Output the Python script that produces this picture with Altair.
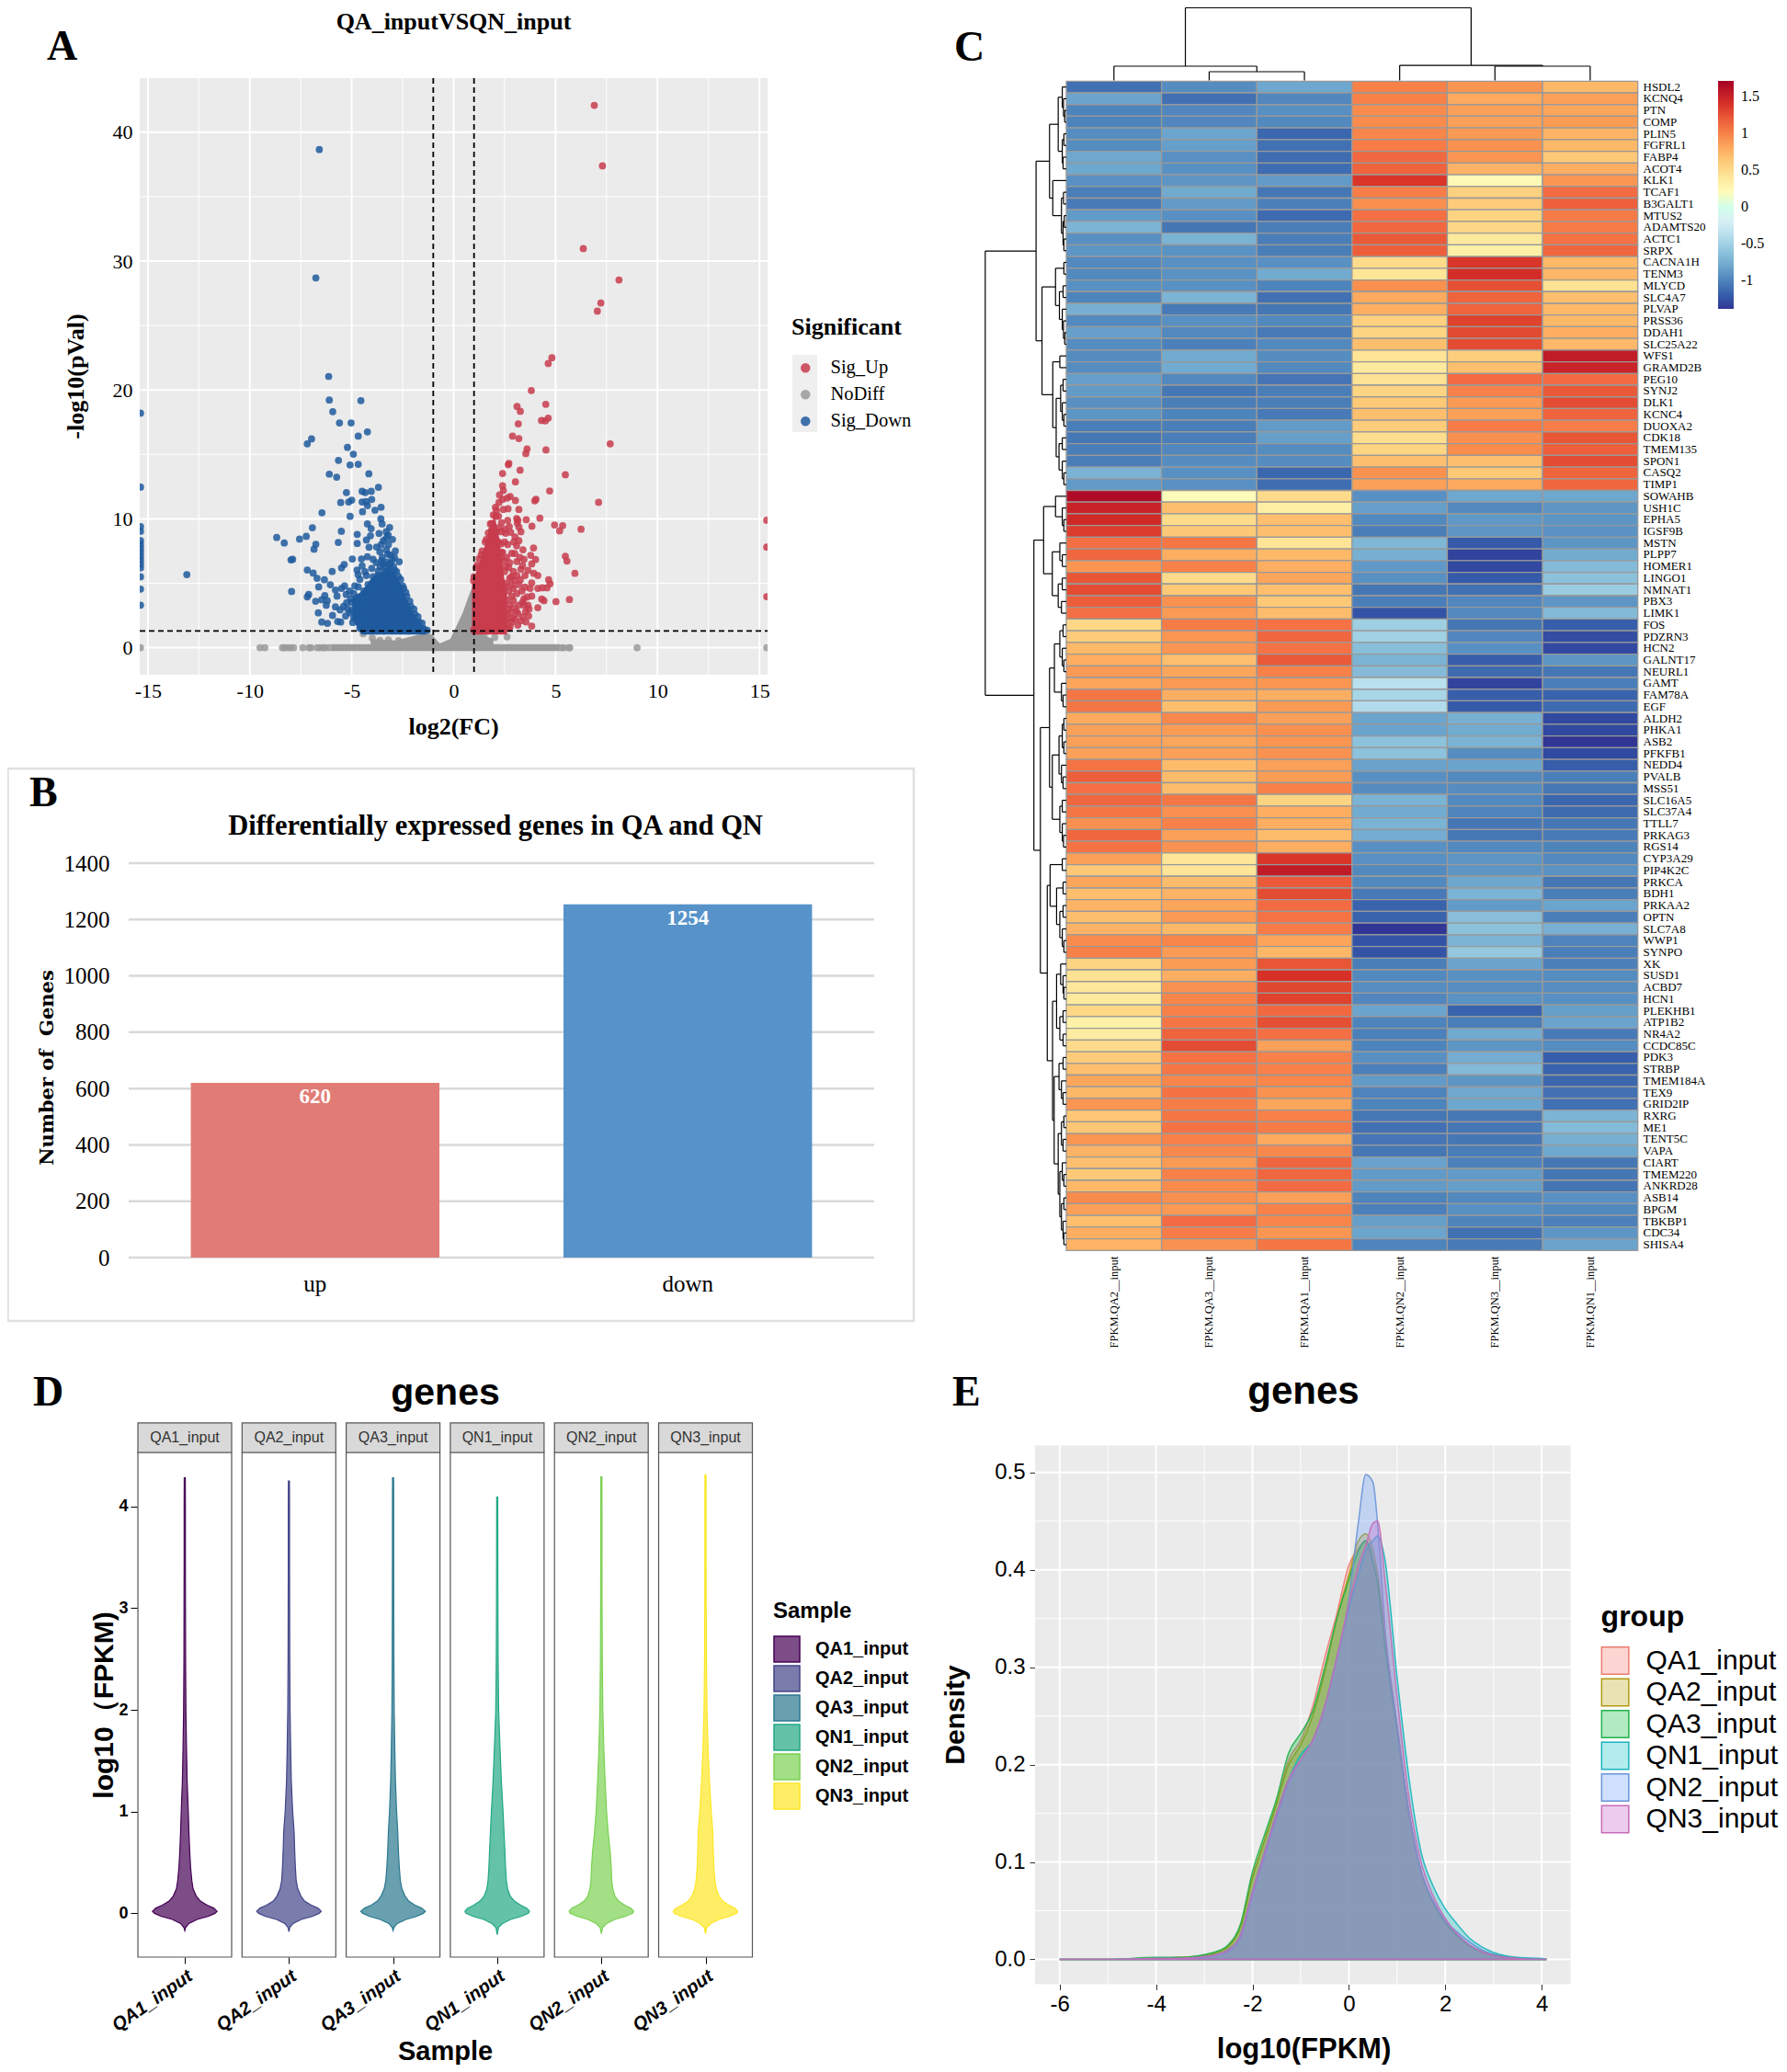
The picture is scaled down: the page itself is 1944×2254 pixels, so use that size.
import altair as alt
import pandas as pd

W, H = 1928, 2238
SERIF = "Liberation Serif"
SANS = "Liberation Sans"
one = pd.DataFrame({"a": [0]})


def px(v):
    return v - 8


def note(text, x, y, size, font=SERIF, weight="normal", angle=0, align="center",
         baseline="alphabetic", color="black"):
    return alt.Chart(one).mark_text(text=text, fontSize=size, font=font, fontWeight=weight, angle=angle,
                                    align=align, baseline=baseline, color=color).encode(
        x=alt.value(px(x)), y=alt.value(px(y)))


def box(x0, x1, y0, y1, fill="transparent", stroke="transparent", sw=0):
    return alt.Chart(one).mark_rect(fill=fill, stroke=stroke, strokeWidth=sw).encode(
        x=alt.value(px(x0)), x2=alt.value(px(x1)), y=alt.value(px(y0)), y2=alt.value(px(y1)))


def vlines(vals, sc, y0, y1, color, width, dash=None):
    kw = {"strokeDash": dash} if dash else {}
    return alt.Chart(pd.DataFrame({"v": vals})).mark_rule(color=color, strokeWidth=width, **kw).encode(
        x=alt.X("v:Q", scale=sc, axis=None), y=alt.value(px(y0)), y2=alt.value(px(y1)))


def hlines(vals, sc, x0, x1, color, width, dash=None):
    kw = {"strokeDash": dash} if dash else {}
    return alt.Chart(pd.DataFrame({"v": vals})).mark_rule(color=color, strokeWidth=width, **kw).encode(
        y=alt.Y("v:Q", scale=sc, axis=None), x=alt.value(px(x0)), x2=alt.value(px(x1)))


# ---------------- A: volcano ----------------
up_pts = [(6.9,42.09),(7.3,37.39),(6.36,30.97),(8.11,28.54),(7.22,26.75),(7.05,26.12),(4.82,22.5),(4.64,22.05),
 (3.81,19.96),(3.11,18.72),(4.52,18.89),(3.27,18.34),(4.64,17.82),(4.31,17.63),(4.5,17.6),(3.17,17.37),(2.89,16.42),
 (3.2,16.23),(3.6,15.42),(3.54,15.06),(4.53,15.35),(7.68,15.82),(2.71,14.3),(2.68,14.2),(3.26,13.78),(2.4,13.52),
 (5.48,13.42),(3.03,12.87),(2.4,12.57),(4.71,12.16),(2.44,12.2),(2.25,11.85),(2.77,11.73),(2.4,11.5),(2.62,11.61),
 (3.03,11.42),(2.22,11.26),(7.11,11.28),(4.04,11.52),(3.98,11.4),(3.2,10.73),(2.67,10.78),(2.1,10.66),(2.44,10.73),
 (2.07,10.19),(2.65,9.88),(3.09,10.02),(3.56,9.93),(4.23,10.05),(3.12,9.67),(3.2,9.36),(1.87,9.64),(3.84,9.43),
 (4.95,9.52),(5.35,9.47),(5.2,9.07),(6.25,9.19),(2.73,9.4),(2.55,8.88),(2.8,8.95),(3.01,8.6),(3.09,7.9),(2.32,8.05),
 (3.92,7.74),(2.85,7.33),(3.78,7.17),(2.32,6.98),(5.48,7.1),(5.56,6.72),(3.45,6.86),(4.02,6.84),(3.1,6.69),(2.47,6.74),
 (3.38,6.38),(3.83,6.5),(3.3,6.08),(5.95,5.77),(2.7,6.22),(2.93,5.91),(3.93,5.77),(4.13,5.6),(2.85,5.5),(3.27,5.27),
 (4.66,5.27),(4.73,4.96),(3.83,5.03),(4.13,4.6),(4.35,4.65),(4.58,4.65),(3.75,4.6),(2.93,4.6),(2.55,4.72),(3.6,3.93),
 (3.83,4.0),(5.68,3.74),(5.02,3.58),(4.32,3.77),(4.43,3.65),(2.93,3.65),(3.38,3.53),(4.13,3.1),(3.65,3.29),(3.08,2.82),
 (2.67,2.98),(3.53,2.82),(3.15,2.65),(3.68,2.46),(3.3,2.1),(2.85,1.99),(2.55,2.06),(3.83,1.68),(2.77,1.63),(3.15,1.75),
 (15.36,9.89),(15.36,7.8),(15.36,3.96),(2.1,9.0),(2.2,8.2),(2.35,7.4),(2.5,5.9),(2.6,5.0),(2.6,3.7),(2.6,2.6),(2.5,1.6),(2.3,3.0),
 (1.85,9.1),(1.6,8.4),(1.35,7.2),(1.15,6.4),(0.98,5.2),
 (1.0,5.5),(1.1,6.2),(1.25,6.9),(1.4,7.5),(1.55,8.2),(1.7,8.9),(1.8,9.6),(1.95,10.3),(2.05,10.9),(2.2,10.2),(2.35,9.7),
 (2.5,9.2),(2.35,9.0),(2.2,9.3),(2.5,8.2),(2.65,8.0),(2.4,7.4),(2.6,7.0),(2.75,6.6),(2.55,6.3),(2.75,5.4),(2.85,4.9),
 (2.7,4.4),(2.85,4.0),(2.75,3.3),(2.8,2.7),(2.9,2.3),(2.65,2.2),(2.7,1.5),(2.4,1.4),(2.1,1.35),(1.8,1.35),(1.5,1.35),
 (1.2,1.35),(0.98,1.4),(2.95,3.1),(3.0,5.2),(3.2,4.9),(3.1,4.2),(3.35,4.4),(3.5,4.7),(3.45,3.8),(3.2,3.3),(3.45,3.3),
 (3.7,3.0),(3.4,2.4),(3.0,2.2),(3.55,2.0),(3.1,5.6),(3.5,5.6),(3.65,6.0),(3.25,7.0),(3.0,7.3),(3.4,7.6),(2.95,8.2),
 (3.2,8.3),(3.3,9.0),(3.15,9.9)]
down_pts = [(-6.59,38.66),(-6.76,28.7),(-6.13,21.05),(-6.1,19.22),(-4.55,19.17),(-5.93,18.32),(-5.6,17.44),(-5.03,17.44),
 (-4.23,16.75),(-4.68,16.42),(-6.97,16.2),(-7.18,15.82),(-5.21,15.54),(-4.92,15.02),(-5.65,14.54),(-5.08,14.18),
 (-4.68,14.23),(-4.16,13.49),(-6.1,13.47),(-5.74,13.23),(-3.69,12.45),(-5.26,12.04),(-4.49,12.14),(-4.34,12.04),
 (-4.04,12.14),(-5.0,11.45),(-5.15,11.31),(-5.54,11.26),(-4.49,11.31),(-4.29,11.33),(-4.02,11.5),(-4.23,11.02),
 (-3.56,10.9),(-3.86,10.67),(-4.47,10.55),(-6.46,10.47),(-5.08,10.19),(-3.57,10.0),(-4.23,9.6),(-3.51,9.6),(-3.14,9.33),
 (-4.05,9.24),(-6.93,9.31),(-5.51,9.03),(-3.66,8.86),(-3.31,9.0),(-3.21,8.74),(-4.73,8.79),(-4.08,8.69),(-7.23,8.64),
 (-7.56,8.43),(-8.68,8.55),(-8.31,8.12),(-4.28,8.36),(-4.73,8.09),(-5.66,8.17),(-6.76,8.03),(-6.85,7.64),(-4.15,7.79),
 (-3.2,8.0),(-3.78,7.81),(-2.86,7.5),(-3.62,7.45),(-3.23,7.26),(-7.9,6.86),(-7.98,6.81),(-4.97,6.88),(-4.52,6.88),
 (-4.23,7.05),(-3.95,6.86),(-3.54,6.74),(-3.01,6.81),(-2.67,6.67),(-5.37,6.46),(-5.5,6.19),(-4.49,6.34),(-4.02,6.15),
 (-4.74,6.03),(-7.18,6.03),(-5.96,5.91),(-6.89,5.79),(-4.69,5.67),(-4.28,5.6),(-6.7,5.39),(-6.34,5.27),(-6.05,4.89),
 (-6.62,4.72),(-5.35,4.79),(-5.5,4.6),(-4.68,4.72),(-7.95,4.36),(-5.8,4.48),(-7.11,4.13),(-7.18,3.94),(-6.32,4.05),
 (-6.77,3.6),(-6.47,3.72),(-6.2,3.65),(-5.72,4.0),(-5.27,4.13),(-6.25,3.29),(-5.8,3.17),(-5.57,2.93),(-6.64,2.7),
 (-5.94,2.51),(-5.3,2.46),(-6.47,1.99),(-6.19,1.89),(-5.69,2.03),(-5.54,1.99),(-5.09,2.7),(-4.82,3.41),(-4.44,1.46),
 (-4.52,2.22),(-13.09,5.67),(-15.36,18.2),(-15.36,12.46),(-15.36,9.4),(-15.36,9.03),(-15.36,8.3),(-15.36,8.0),
 (-15.36,7.7),(-15.36,7.4),(-15.36,7.1),(-15.36,6.8),(-15.36,6.5),(-15.36,6.2),(-15.36,5.5),(-15.36,4.55),(-15.36,3.3),
 (-4.2,4.9),(-3.95,5.5),(-3.7,5.95),(-3.4,6.2),(-3.15,6.45),(-2.9,6.0),(-2.7,5.5),(-2.5,4.8),(-2.3,4.0),(-2.1,3.2),
 (-1.9,2.6),(-1.7,2.0),(-1.5,1.5),(-1.3,1.35),(-4.7,3.9),(-5.0,3.5),(-4.9,2.3),(-4.6,1.5),
 (-4.0,5.0),(-3.85,5.3),(-3.7,5.6),(-3.6,6.3),(-3.45,6.5),(-3.3,6.65),(-3.1,6.55),(-2.95,6.3),(-2.8,5.9),(-2.6,5.3),
 (-2.45,4.6),(-3.8,6.6),(-3.5,7.0),(-3.3,7.6),(-3.1,7.2),(-2.9,7.0),(-3.45,8.3),(-3.3,8.5),(-3.55,8.0),(-3.0,8.4),
 (-4.35,5.9),(-4.6,5.3),(-4.85,4.8),(-5.1,4.4),(-5.05,3.8),(-5.25,3.5),(-5.4,3.2),(-5.2,3.0),(-5.0,2.9),(-4.9,4.2),
 (-4.95,1.95),(-4.7,2.6),(-4.55,3.2),(-2.75,4.8),(-2.35,4.3),(-2.15,3.6),(-1.95,3.0),(-1.75,2.4),(-1.55,1.9),(-1.45,1.4),
 (-4.3,1.35),(-4.1,1.3),(-3.8,1.3),(-3.4,1.3),(-3,1.3),(-2.6,1.3),(-2.2,1.3),(-1.8,1.3),(-3.3,5.9),(-3.6,5.2),(-4.15,4.5),
 (-4.4,4.4),(-4.5,3.9)]
nodiff_zero = [-15.36,-9.5,-9.26,-8.4,-8.3,-8.15,-8.0,-7.85,-7.4,-7.1,-7.0,-6.7,-6.55,-6.4,-6.3,-6.1,5.3,5.4,5.65,5.7,9.0,15.36]
nodiff_low = [(-3.99,0.75),(-3.62,0.56),(-4.44,1.08),(2.02,0.8),(2.62,0.84),(1.5,0.84),(-3.2,0.6),(-2.7,0.55)]
gray_band_x = [-6.0, 5.2]
gray_band_top = [0.27, 0.27]
gray_band_bot = [-0.27, -0.27]
gray_v_x = [-4.07,-2.86,-1.36,-1.06,-0.68,-0.16,0.44,0.82,1.04,1.5,1.95]
gray_v_top = [0.68,0.56,1.15,1.03,0.32,0.68,2.7,4.36,5.08,0.9,0.7]
down_core_x = [-4.97,-4.52,-3.92,-3.62,-3.17,-2.79,-2.56,-2.26,-1.96,-1.66,-1.36]
down_core_top = [3.89,4.36,5.55,5.79,6.38,5.55,4.84,3.65,2.7,1.99,1.15]
down_core_bot = [2.22,1.03,1.03,1.03,1.03,1.03,1.03,1.03,1.03,1.03,1.03]
up_core_x = [0.9,1.19,1.49,1.79,2.02,2.25,2.47,2.62]
up_core_top = [4.84,6.26,7.69,9.47,10.19,8.4,5.55,4.13]
up_core_bot = [1.03,1.03,1.03,1.03,1.03,1.03,1.03,1.03]

ax = alt.Scale(domain=[-15.4, 15.4], range=[px(152), px(835)], nice=False, zero=False)
ay = alt.Scale(domain=[-2.1, 44.2], range=[px(734), px(85)], nice=False, zero=False)
sig_scale = alt.Scale(domain=["Sig_Up", "NoDiff", "Sig_Down"], range=["#c83c4e", "#9a9a9a", "#1f5a9e"])
sig_legend = alt.Legend(title="Significant", orient="none", legendX=px(861), legendY=px(343), titleFont=SERIF,
                        titleFontSize=26, titleFontWeight="bold", titleColor="black", titlePadding=21, labelFont=SERIF,
                        labelFontSize=20.5, labelColor="black", symbolType="circle", symbolSize=110, rowPadding=8,
                        symbolOffset=5, labelOffset=17, labelLimit=200)


def area_core(xs, top, bot, color):
    d = pd.DataFrame({"x": xs, "t": top, "b": bot})
    return alt.Chart(d).mark_area(color=color, opacity=1).encode(
        x=alt.X("x:Q", scale=ax, axis=None), y=alt.Y("t:Q", scale=ay, axis=None, stack=None), y2="b:Q")


gray_df = pd.DataFrame([{"x": v, "y": 0.0, "g": "NoDiff"} for v in nodiff_zero] +
                       [{"x": a, "y": b, "g": "NoDiff"} for a, b in nodiff_low])
sig_df = pd.DataFrame([{"x": a, "y": b, "g": "Sig_Down"} for a, b in down_pts] +
                      [{"x": a, "y": b, "g": "Sig_Up"} for a, b in up_pts])
panel_a = [
    box(862, 889, 386, 470, fill="#efefef"),
    box(152, 835, 85, 734, fill="#ebebeb"),
    vlines([-12.5, -7.5, -2.5, 2.5, 7.5, 12.5], ax, 85, 734, "white", 1),
    hlines([5, 15, 25, 35], ay, 152, 835, "white", 1),
    vlines([-15, -10, -5, 0, 5, 10, 15], ax, 85, 734, "white", 2),
    hlines([0, 10, 20, 30, 40], ay, 152, 835, "white", 2),
    area_core(gray_band_x, gray_band_top, gray_band_bot, "#9a9a9a"),
    area_core(gray_v_x, gray_v_top, [-0.2] * len(gray_v_x), "#9a9a9a"),
    alt.Chart(gray_df).mark_circle(size=60, opacity=0.85).encode(
        x=alt.X("x:Q", scale=ax, axis=None), y=alt.Y("y:Q", scale=ay, axis=None),
        color=alt.Color("g:N", scale=sig_scale, legend=None)),
    area_core(down_core_x, down_core_top, down_core_bot, "#1f5a9e"),
    area_core(up_core_x, up_core_top, up_core_bot, "#c83c4e"),
    alt.Chart(sig_df).mark_circle(size=60, opacity=0.85).encode(
        x=alt.X("x:Q", scale=ax, axis=alt.Axis(
            orient="bottom", offset=px(734) - H, values=[-15, -10, -5, 0, 5, 10, 15], labelExpr="''+datum.value",
            grid=False, ticks=False, domain=False, labelFont=SERIF, labelFontSize=22, labelColor="black", labelPadding=7,
            labelFlush=False, labelOverlap=False, title="log2(FC)", titleFont=SERIF, titleFontSize=26, titleFontWeight="bold",
            titleColor="black", titleX=px(493), titleY=790 - 734, titleBaseline="middle", titleAlign="center")),
        y=alt.Y("y:Q", scale=ay, axis=alt.Axis(
            orient="left", offset=-px(152), values=[0, 10, 20, 30, 40], labelExpr="''+datum.value", grid=False, ticks=False,
            domain=False, labelFont=SERIF, labelFontSize=22, labelColor="black", labelPadding=8, labelOverlap=False,
            title="-log10(pVal)", titleFont=SERIF, titleFontSize=26, titleFontWeight="bold", titleColor="black",
            titleX=82 - 152, titleY=px(409), titleBaseline="middle", titleAlign="center", titleAngle=270)),
        color=alt.Color("g:N", scale=sig_scale, legend=sig_legend)),
    vlines([-1, 1], ax, 85, 734, "black", 1.8, [6, 4]),
    hlines([1.3], ay, 152, 835, "black", 1.8, [6, 4]),
    box(145, 152, 85, 734, fill="white"),
    box(835, 843, 85, 734, fill="white"),
    note("QA_inputVSQN_input", 493.5, 31.5, 26, weight="bold"),
]

# ---------------- B: bars ----------------
bar_cats = ["up", "down"]
bar_vals = [620, 1254]
bar_colors = ["#e17b76", "#5793c9"]
bar_ticks = [0, 200, 400, 600, 800, 1000, 1200, 1400]
bx = alt.Scale(domain=bar_cats, range=[px(140), px(951)], paddingInner=0.333, paddingOuter=0.1667)
by = alt.Scale(domain=[0, 1400], range=[px(1368), px(939)], nice=False)
bar_df = pd.DataFrame({"cat": bar_cats, "val": bar_vals})
panel_b = [
    box(8.5, 994, 836, 1437, stroke="#e0e0e0", sw=2.5),
    hlines(bar_ticks, by, 140, 951, "#d9d9d9", 2.5),
    alt.Chart(bar_df).mark_bar().encode(
        x=alt.X("cat:N", scale=bx, sort=None, axis=alt.Axis(
            orient="bottom", offset=px(1368) - H, labelAngle=0, grid=False, ticks=False, domain=False, labelFont=SERIF,
            labelFontSize=25, labelColor="black", labelPadding=16, title=None)),
        y=alt.Y("val:Q", scale=by, axis=alt.Axis(
            orient="left", offset=-px(140), values=bar_ticks, grid=False, ticks=False, domain=False, format="d",
            labelFont=SERIF, labelFontSize=25, labelColor="black", labelPadding=21, labelOverlap=False,
            title="Number of\u00a0 Genes", titleFont="DejaVu Serif", titleFontSize=21, titleFontWeight="bold", titleColor="black",
            titleX=51 - 140, titleY=px(1161), titleBaseline="middle", titleAlign="center", titleAngle=270)),
        color=alt.Color("cat:N", scale=alt.Scale(domain=bar_cats, range=bar_colors), legend=None)),
    alt.Chart(bar_df).mark_text(color="white", font=SERIF, fontWeight="bold", fontSize=23, dy=15, baseline="middle").encode(
        x=alt.X("cat:N", scale=bx, sort=None, axis=None), y=alt.Y("val:Q", scale=by, axis=None), text="val:Q"),
    note("Differentially expressed genes in QA and QN", 539, 908, 30.5, weight="bold"),
]

# ---------------- C: heatmap ----------------
heat_samples = ["FPKM.QA2__input", "FPKM.QA3__input", "FPKM.QA1__input", "FPKM.QN2__input", "FPKM.QN3__input", "FPKM.QN1__input"]
heat_genes = ["HSDL2","KCNQ4","PTN","COMP","PLIN5","FGFRL1","FABP4","ACOT4","KLK1","TCAF1","B3GALT1","MTUS2","ADAMTS20","ACTC1",
 "SRPX","CACNA1H","TENM3","MLYCD","SLC4A7","PLVAP","PRSS36","DDAH1","SLC25A22","WFS1","GRAMD2B","PEG10","SYNJ2","DLK1","KCNC4",
 "DUOXA2","CDK18","TMEM135","SPON1","CASQ2","TIMP1","SOWAHB","USH1C","EPHA5","IGSF9B","MSTN","PLPP7","HOMER1","LINGO1","NMNAT1",
 "PBX3","LIMK1","FOS","PDZRN3","HCN2","GALNT17","NEURL1","GAMT","FAM78A","EGF","ALDH2","PHKA1","ASB2","PFKFB1","NEDD4","PVALB",
 "MSS51","SLC16A5","SLC37A4","TTLL7","PRKAG3","RGS14","CYP3A29","PIP4K2C","PRKCA","BDH1","PRKAA2","OPTN","SLC7A8","WWP1","SYNPO",
 "XK","SUSD1","ACBD7","HCN1","PLEKHB1","ATP1B2","NR4A2","CCDC85C","PDK3","STRBP","TMEM184A","TEX9","GRID2IP","RXRG","ME1","TENT5C",
 "VAPA","CIART","TMEM220","ANKRD28","ASB14","BPGM","TBKBP1","CDC34","SHISA4"]
heat_values = [
 [-1.1,-.95,-.8,1.0,.9,.72],[-.82,-1.1,-.98,1.0,.8,.85],[-1.0,-.98,-.93,.95,.85,.82],[-1.0,-.98,-.97,.95,.85,.87],
 [-.95,-.82,-1.15,.98,.88,.75],[-.95,-.85,-1.1,1.03,.92,.72],[-.8,-.93,-1.12,1.12,.9,.62],[-.8,-.93,-1.12,1.15,.75,.78],
 [-.93,-.9,-.87,1.38,.22,.9],[-1.03,-.78,-1.07,1.02,.57,1.1],[-1.05,-.87,-1.02,.93,.6,1.17],[-.87,-.93,-1.13,1.08,.55,1.03],
 [-.72,-1.07,-1.03,1.12,.53,1.03],[-.93,-.73,-1.03,1.2,.38,1.07],[-.9,-.92,-1.03,1.17,.32,1.13],[-.97,-.93,-.93,.5,1.38,.72],
 [-.97,-.92,-.78,.42,1.42,.73],[-.93,-.93,-1.0,.93,1.25,.45],[-1.0,-.72,-1.1,.8,1.15,.68],[-.75,-1.05,-1.07,.78,1.15,.72],
 [-.97,-.93,-.97,.57,1.32,.72],[-.85,-.97,-1.05,.55,1.28,.78],[-.95,-1.02,-.97,.68,1.27,.72],[-.95,-.78,-.95,.43,.58,1.55],
 [-.95,-.78,-.97,.37,.68,1.5],[-.85,-.97,-1.08,.45,1.1,1.1],[-.87,-1.07,-1.03,.55,1.0,1.2],[-.93,-1.03,-1.03,.62,.88,1.27],
 [-.9,-1.0,-1.05,.68,.85,1.15],[-1.03,-1.03,-.87,.6,1.03,1.02],[-1.07,-1.03,-.85,.48,.93,1.22],[-1.03,-.98,-.95,.55,.95,1.17],
 [-1.03,-.95,-.95,.68,.68,1.27],[-.73,-.93,-1.15,.92,.62,1.15],[-.87,-.93,-1.12,.85,.8,1.13],[1.65,.2,.5,-.93,-.8,-.8],
 [1.5,.68,.33,-.85,-.97,-.9],[1.45,.5,.68,-.97,-.88,-.9],[1.35,.62,.68,-1.03,-.9,-.92],[1.08,1.05,.43,-.7,-1.22,-.9],
 [1.13,.78,.72,-.75,-1.33,-.78],[.9,1.0,.78,-.88,-1.3,-.67],[1.22,.5,.82,-.93,-1.22,-.63],[1.27,.62,.68,-1.07,-1.1,-.55],
 [1.18,.92,.62,-1.03,-.98,-.9],[1.08,.88,.7,-1.25,-.97,-.68],[.52,1.03,1.07,-.53,-1.07,-1.2],[.6,.9,1.13,-.52,-.98,-1.28],
 [.72,.9,1.07,-.65,-.93,-1.3],[.78,.68,1.2,-.73,-1.2,-.9],[.88,.82,1.0,-.67,-1.13,-1.07],[.82,.88,.9,-.38,-1.33,-1.03],
 [1.05,.78,.78,-.48,-1.2,-1.17],[1.05,.68,.88,-.42,-1.22,-1.13],[.8,.97,.85,-.82,-.75,-1.3],[.85,.87,.93,-.82,-.78,-1.3],
 [.85,.82,.9,-.62,-.73,-1.39],[.85,.85,.92,-.62,-.95,-1.3],[1.07,.7,.85,-.83,-.82,-1.2],[1.17,.7,.87,-.93,-.97,-1.03],
 [1.08,.7,1.0,-.95,-.95,-1.07],[1.13,1.05,.55,-.73,-.97,-1.15],[1.05,.93,.78,-.78,-1.0,-1.13],[.93,1.0,.78,-.73,-1.07,-1.07],
 [1.13,.85,.7,-.77,-1.07,-1.05],[1.07,.92,.78,-.93,-.97,-1.0],[.85,.42,1.38,-.93,-.9,-.97],[.62,.42,1.55,-.97,-.9,-.92],
 [.82,.7,1.2,-.97,-.8,-1.07],[.68,.75,1.27,-1.05,-.72,-1.03],[.75,.82,1.1,-1.17,-.87,-.82],[.68,.88,1.07,-1.17,-.65,-1.03],
 [.75,.72,1.03,-1.39,-.63,-.75],[.95,.98,.83,-1.25,-.72,-1.0],[1.0,.88,.73,-1.25,-.58,-1.03],[.55,.87,1.22,-1.03,-.82,-1.02],
 [.45,.78,1.4,-.97,-.93,-.95],[.4,.92,1.3,-.95,-.95,-.95],[.37,.98,1.32,-.98,-.92,-.93],[.52,1.0,1.12,-.82,-1.17,-.85],
 [.3,1.05,1.25,-1.0,-1.03,-.82],[.35,1.15,1.08,-1.02,-.78,-1.05],[.5,1.27,.85,-1.0,-.9,-.95],[.6,1.07,1.0,-.93,-.77,-1.2],
 [.68,1.05,1.0,-1.02,-.68,-1.17],[.82,.98,.98,-.87,-.9,-1.15],[.72,1.07,.92,-1.0,-.8,-1.1],[.9,1.02,.82,-1.0,-.8,-1.1],
 [.63,1.05,1.0,-1.07,-1.07,-.72],[.63,1.07,1.03,-1.1,-1.07,-.68],[.9,1.0,.8,-1.08,-1.07,-.75],[.75,.97,.97,-1.07,-1.03,-.8],
 [.68,.88,1.13,-.83,-1.02,-1.07],[.62,1.0,1.13,-.87,-.87,-1.07],[.72,.95,1.1,-.87,-.85,-1.08],[.95,.93,.85,-1.0,-.97,-.93],
 [.85,.88,1.0,-1.02,-.93,-.97],[.68,1.1,.98,-.85,-1.0,-1.02],[.78,1.03,.9,-.82,-1.1,-.9],[.75,.92,1.05,-1.0,-1.05,-.82]]
heat_stops = [-1.39,-1.08,-.77,-.46,-.15,.16,.47,.78,1.09,1.4,1.71]
heat_colors = ["#313695","#4575b4","#74add1","#abd9e9","#e0f3f8","#ffffbf","#fee090","#fdae61","#f46d43","#d73027","#a50026"]
heat_df = pd.DataFrame([{"gene": g, "sample": s, "value": v}
                        for g, row in zip(heat_genes, heat_values) for s, v in zip(heat_samples, row)])
hx = alt.Scale(domain=heat_samples, range=[px(1160), px(1781.7)], padding=0)
hy = alt.Scale(domain=heat_genes, range=[px(88.3), px(1360.3)], padding=0)
panel_c = alt.Chart(heat_df).mark_rect(stroke="#999999", strokeWidth=1.3).encode(
    x=alt.X("sample:N", scale=hx, sort=None, axis=alt.Axis(
        orient="bottom", offset=px(1360.3) - H, labelAngle=270, labelAlign="right", labelBaseline="middle", ticks=False,
        domain=False, grid=False, labelFont=SERIF, labelFontSize=12.5, labelColor="black", labelPadding=6, labelLimit=200, title=None)),
    y=alt.Y("gene:N", scale=hy, sort=None, axis=alt.Axis(
        orient="right", offset=px(1782) - W, ticks=False, domain=False, grid=False, labelFont=SERIF, labelFontSize=13,
        labelColor="black", labelPadding=5, labelOverlap=False, labelLimit=200, title=None)),
    color=alt.Color("value:Q", scale=alt.Scale(domain=heat_stops, range=heat_colors), legend=alt.Legend(
        title=None, orient="none", legendX=px(1869), legendY=px(88), gradientLength=248, gradientThickness=17,
        values=[-1, -0.5, 0, 0.5, 1, 1.5], labelExpr="''+datum.value", labelFont=SERIF, labelFontSize=16, labelColor="black",
        labelOffset=8, tickCount=6, gradientStrokeWidth=0)))

# dendrograms: merge trees (height, left, right); integers are leaves in display order
row_top_a = (.207, (.10, (.05, 0, (.035, 1, (.02, 2, 3))), (.05, (.03, 4, 5), (.04, 6, 7))),
             (.167, 8, (.06, (.035, 9, 10), (.04, (.025, 11, 12), (.03, 13, 14)))))
row_top_b = (.133, (.03, 15, 16), (.085, (.04, 17, 18), (.05, 19, (.035, 20, (.02, 21, 22)))))
row_top_c = (.167, (.08, 23, 24), (.125, (.07, (.04, 25, 26), (.05, 27, (.03, 28, 29))),
                                   (.09, (.05, 30, 31), (.05, 32, (.03, 33, 34)))))
row_mid_d = (.28, (.133, 35, (.05, 36, (.03, 37, 38))), (.173, (.08, 39, (.05, 40, 41)), (.1, (.05, 42, 43), (.06, 44, 45))))
row_mid_e = (.207, (.147, (.08, (.04, 46, 47), (.05, 48, (.03, 49, 50))), (.06, 51, (.04, 52, 53))),
             (.173, (.09, (.05, (.03, 54, 55), (.03, 56, 57)), (.06, 58, (.04, 59, 60))),
              (.08, (.05, 61, 62), (.05, 63, (.035, 64, 65)))))
row_low_f1 = (.2, (.05, 66, 67), (.12, (.04, 68, 69), (.08, (.04, 70, 71), (.05, 72, (.03, 73, 74)))))
row_low_f2 = (.17, (.12, (.07, 75, (.04, 76, (.03, 77, 78))), (.08, (.04, 79, 80), (.04, 81, 82))),
              (.15, (.09, (.04, 83, 84), (.06, 85, (.04, 86, 87))),
               (.1, (.06, (.03, 88, 89), (.04, 90, 91)),
                (.08, (.05, 92, (.03, 93, 94)), (.06, (.03, 95, 96), (.04, 97, (.03, 98, 99)))))))
row_tree = (1.0, (.373, row_top_a, (.3, row_top_b, row_top_c)),
            (.4, row_mid_d, (.32, row_mid_e, (.235, row_low_f1, row_low_f2))))
col_tree = (1.0, (.196, 0, (.12, 1, 2)), (.208, 3, (.196, 4, 5)))


def tree_segments(node, out):
    if isinstance(node, int):
        return node + 0.5, 0.0
    h, left, right = node
    p0, h0 = tree_segments(left, out)
    p1, h1 = tree_segments(right, out)
    out.append({"p": p0, "p2": p1, "h": h, "h2": h})
    out.append({"p": p0, "p2": p0, "h": h0, "h2": h})
    out.append({"p": p1, "p2": p1, "h": h1, "h2": h})
    return (p0 + p1) / 2, h


row_segments, col_segments = [], []
tree_segments(row_tree, row_segments)
tree_segments(col_tree, col_segments)
panel_c_rows = alt.Chart(pd.DataFrame(row_segments)).mark_rule(color="black", strokeWidth=1.2).encode(
    y=alt.Y("p:Q", scale=alt.Scale(domain=[0, 100], range=[px(88.3), px(1360.3)], nice=False, zero=False), axis=None), y2="p2:Q",
    x=alt.X("h:Q", scale=alt.Scale(domain=[0, 1], range=[px(1160), px(1071.8)], nice=False), axis=None), x2="h2:Q")
panel_c_cols = alt.Chart(pd.DataFrame(col_segments)).mark_rule(color="black", strokeWidth=1.2).encode(
    x=alt.X("p:Q", scale=alt.Scale(domain=[0, 6], range=[px(1160), px(1781.7)], nice=False, zero=False), axis=None), x2="p2:Q",
    y=alt.Y("h:Q", scale=alt.Scale(domain=[0, 1], range=[px(87.5), px(8.5)], nice=False), axis=None), y2="h2:Q")

# ---------------- D: violins ----------------
samples = ["QA1_input", "QA2_input", "QA3_input", "QN1_input", "QN2_input", "QN3_input"]
viridis = ["#440154", "#414487", "#2A788E", "#22A884", "#7AD151", "#FDE725"]
viridis_fill = ["rgba(68,1,84,0.7)", "rgba(65,68,135,0.7)", "rgba(42,120,142,0.7)", "rgba(34,168,132,0.7)",
                "rgba(122,209,81,0.7)", "rgba(253,231,37,0.7)"]
vio_low = [-.17, -.18, -.17, -.21, -.2, -.2]
vio_top = [4.28, 4.25, 4.28, 4.09, 4.29, 4.31]
vio_y = [-.14,-.10,-.06,-.03,0,.02,.05,.08,.12,.17,.24,.32,.45,.6,.8,1,1.3,1.6,2,2.5,3,3.5,4]
vio_qa1 = [.008,.04,.12,.225,.29,.31,.28,.215,.15,.11,.08,.068,.056,.048,.04,.034,.023,.017,.011,.008,.007,.006,.006]
vio_qa2 = [.008,.04,.12,.225,.29,.31,.28,.215,.15,.115,.085,.07,.062,.056,.05,.036,.023,.017,.011,.008,.007,.006,.006]
vio_qa3 = [.008,.04,.125,.225,.29,.31,.275,.21,.15,.115,.085,.07,.06,.052,.045,.034,.023,.017,.011,.008,.007,.006,.006]
vio_qn1 = [.012,.05,.13,.23,.3,.31,.285,.225,.165,.125,.1,.088,.08,.074,.065,.056,.04,.028,.014,.009,.007,.006,.005]
vio_qn2 = [.012,.05,.13,.23,.3,.31,.285,.225,.165,.13,.11,.1,.095,.085,.065,.05,.036,.024,.014,.009,.007,.006,.006]
vio_qn3 = [.012,.05,.13,.23,.3,.31,.285,.225,.165,.13,.105,.09,.08,.075,.07,.055,.038,.025,.014,.009,.007,.006,.006]
vio_widths = [vio_qa1, vio_qa2, vio_qa3, vio_qn1, vio_qn2, vio_qn3]
vio_rows = []
for i, s in enumerate(samples):
    ys = [vio_low[i]] + vio_y + [vio_top[i]]
    hws = [0.0] + vio_widths[i] + [0.005]
    for y, w in zip(ys, hws):
        vio_rows.append({"sample": s, "y": y, "lo": i - w, "hi": i + w})
vio_df = pd.DataFrame(vio_rows)
dx = alt.Scale(domain=[0, 5], range=[px(201), px(767.5)], nice=False, zero=False)
dy = alt.Scale(domain=[-0.43, 4.53], range=[px(2129), px(1580)], nice=False, zero=False)
frame_df = pd.DataFrame({"s": samples, "i": range(6), "lo": [i - .45 for i in range(6)], "hi": [i + .45 for i in range(6)],
                         "b": [-.43] * 6, "t": [4.53] * 6, "st": [4.82] * 6, "m": [4.675] * 6})
vio_legend = alt.Legend(title="Sample", orient="none", legendX=px(841), legendY=px(1741), titleFont=SANS, titleFontSize=24,
                        titleFontWeight="bold", titleColor="black", titlePadding=14, labelFont=SANS, labelFontSize=20,
                        labelFontWeight="bold", labelColor="black", symbolType="square", symbolSize=784, symbolStrokeWidth=1.5,
                        rowPadding=-2, labelOffset=16, labelLimit=200)
panel_d = [
    alt.Chart(frame_df).mark_rect(fill="white", stroke="#555555", strokeWidth=1.2).encode(
        x=alt.X("lo:Q", scale=dx, axis=None), x2="hi:Q", y=alt.Y("b:Q", scale=dy, axis=None), y2="t:Q"),
    alt.Chart(frame_df).mark_rect(fill="#d9d9d9", stroke="#555555", strokeWidth=1.2).encode(
        x=alt.X("lo:Q", scale=dx, axis=None), x2="hi:Q", y=alt.Y("t:Q", scale=dy, axis=None), y2="st:Q"),
    alt.Chart(frame_df).mark_text(font=SANS, fontSize=16, color="#333333", baseline="middle").encode(
        x=alt.X("i:Q", scale=dx, axis=None), y=alt.Y("m:Q", scale=dy, axis=None), text="s:N"),
    alt.Chart(vio_df).mark_area(orient="horizontal", strokeWidth=1.2).encode(
        x=alt.X("lo:Q", scale=dx, axis=alt.Axis(
            orient="bottom", offset=px(2129) - H, values=list(range(6)),
            labelExpr="['QA1_input','QA2_input','QA3_input','QN1_input','QN2_input','QN3_input'][datum.value]", labelAngle=325,
            labelAlign="right", labelBaseline="top", labelFont=SANS, labelFontSize=20, labelFontWeight="bold", labelFontStyle="italic",
            labelColor="black", labelOverlap=False, labelFlush=False, labelPadding=3, tickSize=7, tickColor="black", domain=False, grid=False,
            title="Sample", titleFont=SANS, titleFontSize=29, titleFontWeight="bold", titleColor="black", titleX=px(484),
            titleY=2231 - 2129, titleBaseline="middle", titleAlign="center")),
        x2="hi:Q",
        y=alt.Y("y:Q", scale=dy, stack=None, axis=alt.Axis(
            orient="left", offset=-px(150), values=[0, 1, 2, 3, 4], grid=False, domain=False, tickSize=8, tickColor="black",
            labelFont=SANS, labelFontSize=18, labelFontWeight="bold", labelColor="black", labelPadding=3,
            title="log10\uff08FPKM)", titleFont=SANS, titleFontSize=30, titleFontWeight="bold", titleColor="black",
            titleX=113.6 - 150, titleY=px(1854.5), titleBaseline="middle", titleAlign="center", titleAngle=270)),
        fill=alt.Fill("sample:N", scale=alt.Scale(domain=samples, range=viridis_fill), legend=vio_legend),
        stroke=alt.Stroke("sample:N", scale=alt.Scale(domain=samples, range=viridis), legend=vio_legend)),
    note("genes", 484.5, 1528, 41, font=SANS, weight="bold"),
]

# ---------------- E: density ----------------
dens_x = [-6,-5,-4,-3.5,-3,-2.75,-2.5,-2.25,-2,-1.75,-1.5,-1.25,-1,-.75,-.5,-.25,0,.2,.35,.5,.6,.75,1,1.25,1.5,1.75,2,2.25,2.5,2.75,3,3.5,4,4.1]
dens_qa1 = [0,0,.001,.002,.004,.007,.014,.034,.085,.122,.16,.205,.225,.26,.31,.355,.405,.422,.43,.405,.385,.33,.24,.15,.09,.058,.038,.024,.014,.008,.004,.001,0,0]
dens_qa2 = [0,0,.001,.002,.004,.007,.013,.033,.083,.122,.16,.2,.22,.25,.295,.35,.395,.43,.437,.42,.395,.33,.24,.15,.09,.058,.038,.024,.014,.008,.004,.001,0,0]
dens_qa3 = [0,0,.002,.002,.005,.008,.015,.036,.09,.128,.165,.212,.232,.255,.3,.35,.39,.42,.43,.41,.385,.32,.235,.148,.09,.058,.038,.024,.014,.008,.005,.001,0,0]
dens_qn1 = [0,0,.001,.001,.003,.005,.01,.025,.07,.11,.15,.185,.21,.225,.26,.31,.36,.395,.42,.43,.435,.41,.29,.185,.11,.075,.052,.036,.022,.013,.007,.002,.001,0]
dens_qn2 = [0,0,.001,.001,.002,.004,.008,.022,.065,.105,.145,.18,.205,.225,.26,.31,.37,.45,.498,.49,.445,.34,.24,.15,.09,.06,.04,.028,.018,.01,.005,.001,0,0]
dens_qn3 = [0,0,.001,.001,.003,.005,.01,.025,.07,.11,.15,.185,.205,.225,.26,.31,.365,.405,.425,.448,.45,.39,.27,.165,.1,.065,.042,.026,.015,.008,.004,.001,0,0]
dens_all = [dens_qa1, dens_qa2, dens_qa3, dens_qn1, dens_qn2, dens_qn3]
hue = ["#ee7b72", "#b09a10", "#22b14c", "#1ab3bd", "#6a94d8", "#c76bb7"]
hue_fill = ["rgba(248,118,109,0.3)", "rgba(183,159,0,0.3)", "rgba(0,186,56,0.3)", "rgba(0,191,196,0.3)",
            "rgba(97,156,255,0.3)", "rgba(200,110,205,0.35)"]
dens_df = pd.DataFrame([{"group": s, "x": x, "y": y} for s, ys in zip(samples, dens_all) for x, y in zip(dens_x, ys)])
ex = alt.Scale(domain=[-6.51, 4.6], range=[px(1126), px(1708.6)], nice=False, zero=False)
ey = alt.Scale(domain=[-0.0255, 0.5277], range=[px(2158.5), px(1572.5)], nice=False, zero=False)
dens_legend = alt.Legend(title="group", orient="none", legendX=px(1741.6), legendY=px(1744), titleFont=SANS, titleFontSize=32,
                         titleFontWeight="bold", titleColor="black", titlePadding=15, labelFont=SANS, labelFontSize=30,
                         labelColor="black", symbolType="square", symbolSize=870, symbolStrokeWidth=1.5, rowPadding=-2.5,
                         labelOffset=18, labelLimit=300)
panel_e = [
    box(1126, 1708.6, 1572.5, 2158.5, fill="#ebebeb"),
    vlines([-5, -3, -1, 1, 3], ex, 1572.5, 2158.5, "white", 1),
    hlines([.05, .15, .25, .35, .45], ey, 1126, 1708.6, "white", 1),
    vlines([-6, -4, -2, 0, 2, 4], ex, 1572.5, 2158.5, "white", 2),
    hlines([0, .1, .2, .3, .4, .5], ey, 1126, 1708.6, "white", 2),
    alt.Chart(dens_df).mark_area(strokeWidth=1.5, interpolate="monotone", strokeOpacity=0.9).encode(
        x=alt.X("x:Q", scale=ex, axis=alt.Axis(
            orient="bottom", offset=px(2158.5) - H, values=[-6, -4, -2, 0, 2, 4], labelExpr="''+datum.value", grid=False, domain=False,
            tickSize=6, tickColor="#333333", labelFont=SANS, labelFontSize=24, labelColor="black", labelPadding=4, labelFlush=False,
            labelOverlap=False, title="log10(FPKM)", titleFont=SANS, titleFontSize=31, titleFontWeight="bold", titleColor="black",
            titleX=px(1418), titleY=2229 - 2158.5, titleBaseline="middle", titleAlign="center")),
        y=alt.Y("y:Q", scale=ey, stack=None, axis=alt.Axis(
            orient="left", offset=-px(1126), values=[0, .1, .2, .3, .4, .5], format=".1f", grid=False, domain=False, tickSize=6,
            tickColor="#333333", labelFont=SANS, labelFontSize=24, labelColor="black", labelPadding=5, labelOverlap=False,
            title="Density", titleFont=SANS, titleFontSize=30, titleFontWeight="bold", titleColor="black", titleX=1039 - 1126,
            titleY=px(1865), titleBaseline="middle", titleAlign="center", titleAngle=270)),
        fill=alt.Fill("group:N", scale=alt.Scale(domain=samples, range=hue_fill), legend=dens_legend),
        stroke=alt.Stroke("group:N", scale=alt.Scale(domain=samples, range=hue), legend=dens_legend)),
    note("genes", 1418, 1527, 42, font=SANS, weight="bold"),
]

letters = [
    note("A", 51, 65, 46, weight="bold", align="left"),
    note("B", 32, 877, 46, weight="bold", align="left"),
    note("C", 1038, 66, 46, weight="bold", align="left"),
    note("D", 36, 1529, 46, weight="bold", align="left"),
    note("E", 1036, 1529, 46, weight="bold", align="left"),
]

all_layers = panel_a + panel_b + [panel_c, panel_c_rows, panel_c_cols] + panel_d + panel_e + letters
chart = alt.layer(*all_layers).resolve_scale(
    x="independent", y="independent", color="independent", fill="independent", stroke="independent"
).resolve_axis(x="independent", y="independent").resolve_legend(
    color="independent", fill="independent", stroke="independent"
).properties(width=W, height=H, padding=0, autosize="none").configure_view(stroke=None)

chart.save("out.html", embed_options={"renderer": "svg", "actions": False})
